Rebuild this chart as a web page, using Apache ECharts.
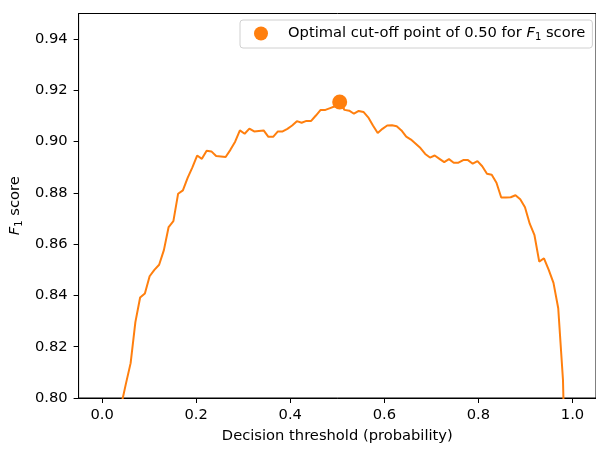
<!DOCTYPE html>
<html>
<head>
<meta charset="utf-8">
<script src="https://cdn.jsdelivr.net/npm/echarts@6/dist/echarts.min.js"></script>
<style>
html,body{margin:0;padding:0;background:#fff;}
#c{width:596px;height:449px;}
</style>
</head>
<body>
<div id="c"></div>
<script>
const thresholds = [0.0404,0.0505,0.0606,0.0707,0.0808,0.0909,0.1010,0.1111,0.1212,0.1313,0.1414,0.1515,0.1616,0.1717,0.1818,0.1919,0.2020,0.2121,0.2222,0.2323,0.2424,0.2525,0.2626,0.2727,0.2828,0.2929,0.3030,0.3131,0.3232,0.3333,0.3434,0.3535,0.3636,0.3737,0.3838,0.3939,0.4040,0.4141,0.4242,0.4343,0.4444,0.4545,0.4646,0.4747,0.4848,0.4949,0.5051,0.5152,0.5253,0.5354,0.5455,0.5556,0.5657,0.5758,0.5859,0.5960,0.6061,0.6162,0.6263,0.6364,0.6465,0.6566,0.6667,0.6768,0.6869,0.6970,0.7071,0.7172,0.7273,0.7374,0.7475,0.7576,0.7677,0.7778,0.7879,0.7980,0.8081,0.8182,0.8283,0.8384,0.8485,0.8586,0.8687,0.8788,0.8889,0.8990,0.9091,0.9192,0.9293,0.9394,0.9495,0.9596,0.9697,0.9798,0.9899];
const f1Scores = [0.7970,0.8055,0.8136,0.8296,0.8392,0.8408,0.8475,0.8500,0.8520,0.8577,0.8667,0.8690,0.8797,0.8810,0.8859,0.8900,0.8946,0.8933,0.8965,0.8962,0.8944,0.8942,0.8940,0.8968,0.9000,0.9044,0.9031,0.9051,0.9040,0.9042,0.9044,0.9019,0.9019,0.9040,0.9040,0.9050,0.9063,0.9080,0.9074,0.9081,0.9081,0.9102,0.9124,0.9124,0.9131,0.9138,0.9155,0.9124,0.9121,0.9109,0.9120,0.9116,0.9095,0.9063,0.9034,0.9050,0.9063,0.9064,0.9060,0.9044,0.9020,0.9008,0.8992,0.8975,0.8952,0.8938,0.8946,0.8933,0.8920,0.8932,0.8918,0.8918,0.8928,0.8928,0.8914,0.8924,0.8904,0.8875,0.8871,0.8840,0.8782,0.8782,0.8783,0.8791,0.8775,0.8744,0.8680,0.8635,0.8532,0.8545,0.8500,0.8449,0.8350,0.8070,0.7300];
const optimalThreshold = 0.5051;
const optimalF1 = 0.9155;
const xTicks = [0.0, 0.2, 0.4, 0.6, 0.8, 1.0];
const yTicks = [0.80, 0.82, 0.84, 0.86, 0.88, 0.90, 0.92, 0.94];
const legendLabel = 'Optimal cut-off point of 0.50 for F1 score';

const FONT = 'DejaVu Sans';
const FS = 14.7;
const ORANGE = '#ff7f0e';
const lineData = thresholds.map((t, i) => [t, f1Scores[i]]);

const chart = echarts.init(document.getElementById('c'), null, {renderer: 'canvas'});
const richSub = {
  gap: {width: 15},
  a: {fontFamily: FONT, fontSize: FS, color: '#000'},
  it: {fontFamily: FONT, fontSize: FS, fontStyle: 'italic', color: '#000'},
  sub: {fontFamily: FONT, fontSize: 10, color: '#000', padding: [7, 0, 0, 0]}
};
chart.setOption({
  animation: false,
  backgroundColor: '#fff',
  grid: {left: 75.5, top: 13.5, width: 523.6, height: 390, show: true, borderColor: '#000', borderWidth: 1, backgroundColor: 'transparent', containLabel: false},
  legend: {
    left: 240, top: 20,
    data: [{name: legendLabel, icon: 'circle'}],
    itemWidth: 14, itemHeight: 14,
    backgroundColor: '#fff', borderColor: '#d0d0d0', borderWidth: 1, borderRadius: 3,
    padding: [6, 7, 6, 14],
    formatter: () => '{gap|}{a|Optimal cut-off point of 0.50 for }{it|F}{sub|1}{a| score}',
    textStyle: {fontFamily: FONT, fontSize: FS, color: '#000', rich: richSub}
  },
  xAxis: {
    type: 'value', min: -0.05, max: 1.05,
    name: 'Decision threshold (probability)', nameLocation: 'middle', nameGap: 31,
    nameTextStyle: {fontFamily: FONT, fontSize: FS, color: '#000'},
    axisLine: {show: true, onZero: false, lineStyle: {color: '#000', width: 1}},
    axisTick: {show: true, length: 5, lineStyle: {color: '#000', width: 1}, customValues: xTicks},
    axisLabel: {fontFamily: FONT, fontSize: FS, color: '#000', margin: 10, customValues: xTicks, formatter: v => v.toFixed(1)},
    splitLine: {show: false}
  },
  yAxis: {
    type: 'value', min: 0.80, max: 0.95,
    name: '{it|F}{sub|1}{a| score}', nameLocation: 'middle', nameGap: 50,
    nameTextStyle: {fontFamily: FONT, fontSize: FS, color: '#000', rich: richSub},
    axisLine: {show: true, onZero: false, lineStyle: {color: '#000', width: 1}},
    axisTick: {show: true, length: 5, lineStyle: {color: '#000', width: 1}, customValues: yTicks},
    axisLabel: {fontFamily: FONT, fontSize: FS, color: '#000', margin: 11, customValues: yTicks, formatter: v => v.toFixed(2)},
    splitLine: {show: false}
  },
  series: [
    {
      type: 'line', name: 'F1', data: lineData, showSymbol: false, symbol: 'none',
      clip: true, lineStyle: {color: ORANGE, width: 2}, itemStyle: {color: ORANGE}, z: 2
    },
    {
      type: 'scatter', name: legendLabel, data: [[optimalThreshold, optimalF1]],
      symbol: 'circle', symbolSize: 15, itemStyle: {color: ORANGE, opacity: 1}, z: 3
    }
  ]
});
</script>
</body>
</html>
